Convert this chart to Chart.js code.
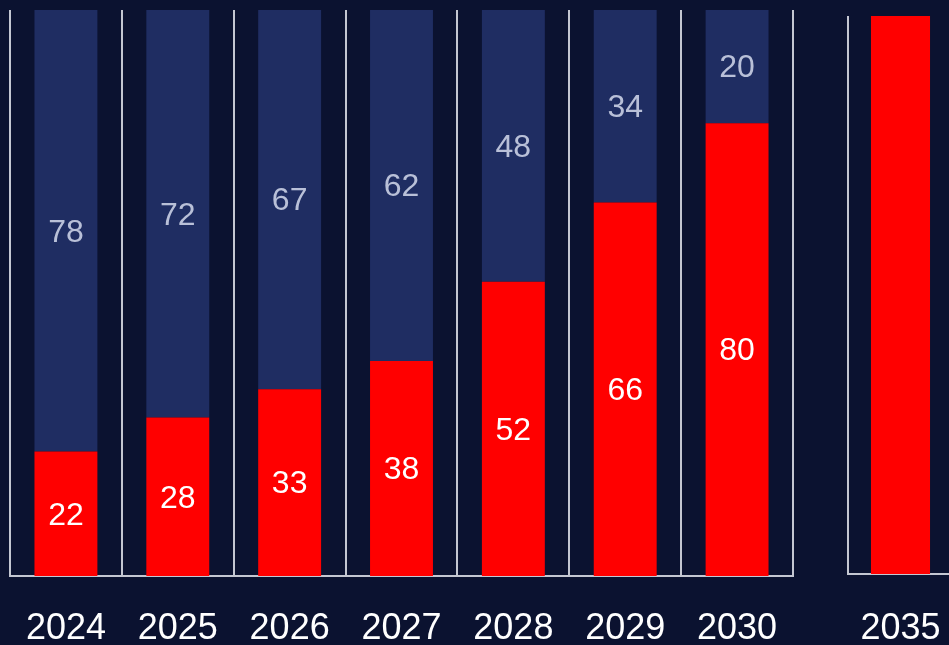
<!DOCTYPE html>
<html>
<head>
<meta charset="utf-8">
<script src="https://cdn.jsdelivr.net/npm/chart.js@4/dist/chart.umd.min.js"></script>
<style>
  html, body { margin: 0; padding: 0; background: #0b1230; width: 949px; height: 645px; overflow: hidden; position: relative; }
  #main { position: absolute; left: -40px; top: 0; }
  #outlook { position: absolute; left: 800px; top: 0; }
</style>
</head>
<body>
<canvas id="main" width="880" height="645"></canvas>
<canvas id="outlook" width="260" height="645"></canvas>
<script>
// Yearly split (percent): red share vs. remaining share
const years = ['2024', '2025', '2026', '2027', '2028', '2029', '2030'];
const redShare = [22, 28, 33, 38, 52, 66, 80];
const restShare = [78, 72, 67, 62, 48, 34, 20];

// Long-range target year
const targetYears = ['2035'];
const targetRed = [100];
const targetRest = [0];

const RED = '#ff0000';
const NAVY = '#1f2d62';
const LINE = '#c4c7d2';
const FONT = '"Liberation Sans", Arial, sans-serif';

// Writes each segment's value in the middle of the segment
const segmentLabels = {
  id: 'segmentLabels',
  afterDatasetsDraw(chart, args, opts) {
    if (!opts.show) return;
    const ctx = chart.ctx;
    ctx.save();
    ctx.font = '32px ' + FONT;
    ctx.textAlign = 'center';
    ctx.textBaseline = 'middle';
    chart.data.datasets.forEach((ds, di) => {
      const meta = chart.getDatasetMeta(di);
      meta.data.forEach((bar, i) => {
        const v = ds.data[i];
        if (!v) return;
        const mid = (bar.y + bar.base) / 2;
        ctx.fillStyle = ds.labelColor;
        ctx.fillText(String(v), bar.x, mid + 2);
      });
    });
    ctx.restore();
  }
};

function makeChart(id, labels, red, rest, pad, axisHeight, tickPad, showLabels) {
  return new Chart(document.getElementById(id), {
    type: 'bar',
    data: {
      labels: labels,
      datasets: [
        { data: red, backgroundColor: RED, labelColor: '#ffffff',
          barPercentage: 0.5625, categoryPercentage: 1 },
        { data: rest, backgroundColor: NAVY, labelColor: '#b9c0d8',
          barPercentage: 0.5625, categoryPercentage: 1 }
      ]
    },
    options: {
      responsive: false,
      animation: false,
      layout: { padding: pad },
      plugins: {
        legend: { display: false },
        tooltip: { enabled: false },
        segmentLabels: { show: showLabels }
      },
      scales: {
        x: {
          stacked: true,
          offset: true,
          grid: { display: true, offset: true, color: LINE, lineWidth: 2, drawTicks: false, tickLength: 0 },
          border: { display: true, color: LINE, width: 2 },
          ticks: { color: '#ffffff', font: { family: FONT, size: 36 }, padding: tickPad, maxRotation: 0 },
          afterFit(scale) { scale.height = axisHeight; }
        },
        y: {
          stacked: true,
          display: false,
          min: 0,
          max: 100
        }
      }
    },
    plugins: [segmentLabels]
  });
}

makeChart('main', years, redShare, restShare,
  { left: 50, right: 47, top: 10, bottom: 0 }, 69, 31, true);
makeChart('outlook', targetYears, targetRed, targetRest,
  { left: 48, right: 107, top: 16, bottom: 0 }, 71, 33, false);
</script>
</body>
</html>
